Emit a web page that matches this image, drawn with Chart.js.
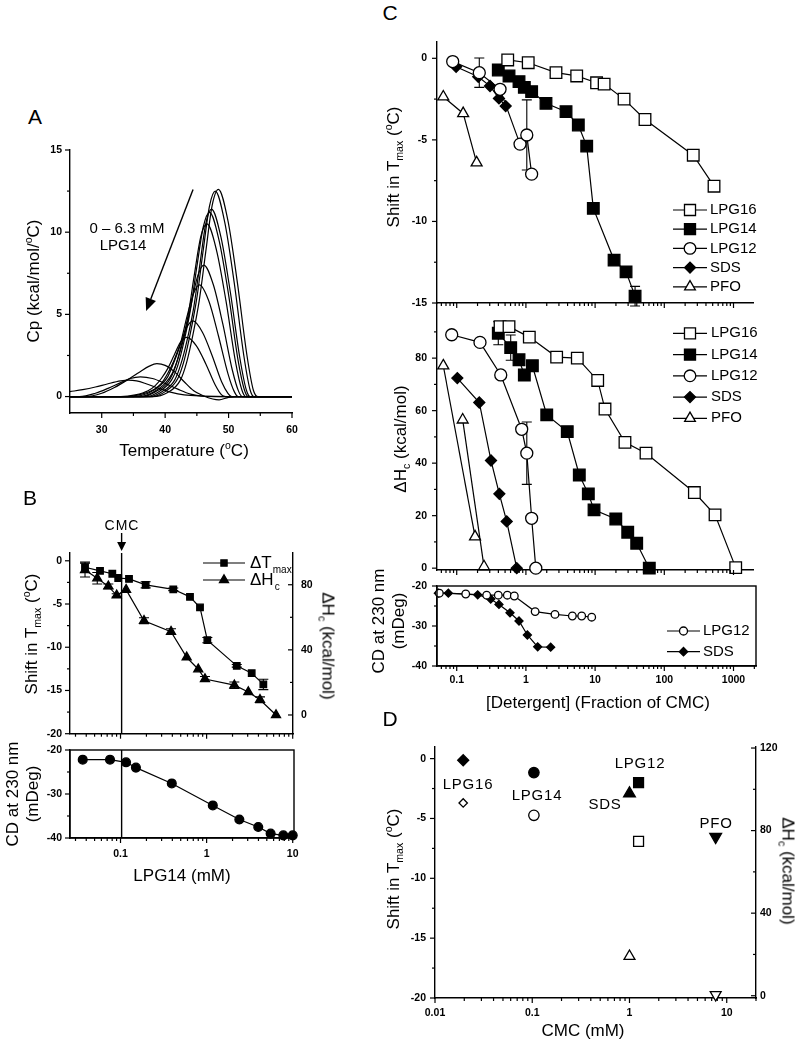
<!DOCTYPE html>
<html>
<head>
<meta charset="utf-8">
<title>LPG detergents — DSC / CD</title>
<script src="https://cdn.jsdelivr.net/npm/chart.js@4.4.1/dist/chart.umd.min.js"></script>
<style>
  html, body { margin: 0; padding: 0; background: #fff; }
  body { position: relative; width: 797px; height: 1043px; overflow: hidden; font-family: Arial, "Liberation Sans", sans-serif; color: #000; }
  canvas { position: absolute; }
  .t { position: absolute; white-space: nowrap; font-size: 17px; line-height: 1; transform: translate(-50%, -50%); }
  .up { transform: translate(-50%, -50%) rotate(-90deg); }
  .down { transform: translate(-50%, -50%) rotate(90deg); }
  .t sup, .t sub { font-size: 0.62em; line-height: 0; }
  .two { text-align: center; line-height: 1.15; }
  .panel { font-size: 21px; }
  .key { font-size: 15px; letter-spacing: 0.8px; }
</style>
</head>
<body>
<canvas id="chartA"></canvas>
<canvas id="chartB1"></canvas>
<canvas id="chartB2"></canvas>
<canvas id="chartC1"></canvas>
<canvas id="chartC2"></canvas>
<canvas id="chartC3"></canvas>
<canvas id="chartD"></canvas>

<!-- panel A -->
<div class="t panel" style="left:35px;top:116px">A</div>
<div class="t up" style="left:33px;top:281px">Cp (kcal/mol/<sup>o</sup>C)</div>
<div class="t" style="left:184px;top:450px">Temperature (<sup>o</sup>C)</div>
<div class="t" style="left:127px;top:227px;font-size:15px">0 – 6.3 mM</div>
<div class="t" style="left:123px;top:244px;font-size:15px">LPG14</div>

<!-- panel B -->
<div class="t panel" style="left:30px;top:497px">B</div>
<div class="t" style="left:122px;top:525px;font-size:14px;letter-spacing:1px">CMC</div>
<div class="t up" style="left:31px;top:634px">Shift in T<sub>max</sub> (<sup>o</sup>C)</div>
<div class="t down" style="left:328px;top:646px">ΔH<sub>c</sub> (kcal/mol)</div>
<div class="t up two" style="left:23px;top:794px">CD at 230 nm<br>(mDeg)</div>
<div class="t" style="left:182px;top:875px">LPG14 (mM)</div>

<!-- panel C -->
<div class="t panel" style="left:390px;top:12px">C</div>
<div class="t up" style="left:393px;top:167px">Shift in T<sub>max</sub> (<sup>o</sup>C)</div>
<div class="t up" style="left:400px;top:439px">ΔH<sub>c</sub> (kcal/mol)</div>
<div class="t up two" style="left:389px;top:621px">CD at 230 nm<br>(mDeg)</div>
<div class="t" style="left:598px;top:702px">[Detergent] (Fraction of CMC)</div>

<!-- panel D -->
<div class="t panel" style="left:390px;top:718px">D</div>
<div class="t up" style="left:393px;top:869px">Shift in T<sub>max</sub> (<sup>o</sup>C)</div>
<div class="t down" style="left:788px;top:871px">ΔH<sub>c</sub> (kcal/mol)</div>
<div class="t" style="left:583px;top:1030px">CMC (mM)</div>
<div class="t key" style="left:468px;top:783px">LPG16</div>
<div class="t key" style="left:537px;top:794px">LPG14</div>
<div class="t key" style="left:640px;top:762px">LPG12</div>
<div class="t key" style="left:605px;top:803px">SDS</div>
<div class="t key" style="left:716px;top:822px">PFO</div>

<script>
// ---------- Panel A: DSC scans, [T (°C), Cp (kcal/mol/°C)], 0 -> 6.3 mM LPG14 ----------
const scan01 = [[25,0],[38,0],[40.4,0.25],[42.4,1.0],[43.4,2.1],[44.4,3.8],[45.4,5.9],[46.4,8.8],[47.4,11.6],[48.4,12.6],[49.9,10.7],[51.4,6.9],[52.9,2.5],[53.9,0.4],[54.6,0],[60,0]];
const scan02 = [[25,0],[38,0],[40,0.3],[42,1.1],[43,2.2],[44,3.9],[45,6.0],[46,8.9],[47,11.6],[47.9,12.5],[49.4,10.6],[50.9,6.9],[52.4,2.5],[53.4,0.4],[54,0],[60,0]];
const scan03 = [[25,0],[37.5,0],[39.5,0.3],[41.5,1.0],[42.5,2.0],[43.5,3.5],[44.5,5.4],[45.5,8.1],[46.4,10.5],[47.3,11.4],[48.8,9.7],[50.3,6.3],[51.8,2.3],[52.8,0.4],[53.4,0],[60,0]];
const scan04 = [[25,0],[37,0],[39,0.3],[41,1.0],[42,1.9],[43,3.4],[44,5.3],[45,7.9],[46,10.3],[47,11.2],[48.5,9.5],[50,6.2],[51.5,2.2],[52.5,0.4],[53.1,0],[60,0]];
const scan05 = [[25,0],[36.5,0],[38.5,0.3],[40.5,0.9],[41.6,1.8],[42.6,3.2],[43.6,4.9],[44.6,7.4],[45.6,9.7],[46.6,10.5],[48.1,8.9],[49.6,5.8],[51.1,2.1],[52.1,0.4],[52.7,0],[60,0]];
const scan06 = [[25,0],[36,0],[38,0.25],[40,0.8],[41.1,1.4],[42.1,2.4],[43.1,3.8],[44.1,5.6],[45.1,7.3],[46.1,8.0],[47.6,6.8],[49.1,4.4],[50.6,1.6],[51.6,0.3],[52.2,0],[60,0]];
const scan07 = [[25,0],[35,0],[37.3,0.2],[39.3,0.7],[40.4,1.2],[41.4,2.1],[42.4,3.2],[43.4,4.8],[44.4,6.2],[45.4,6.8],[46.9,5.8],[48.4,3.7],[49.9,1.4],[50.9,0.3],[51.5,0],[60,0]];
const scan08 = [[25,0],[34,0],[36.3,0.15],[38.3,0.45],[39.4,0.8],[40.4,1.4],[41.4,2.2],[42.4,3.2],[43.4,4.2],[44.4,4.6],[45.9,3.9],[47.4,2.5],[48.9,0.9],[49.9,0.2],[50.5,0],[60,0]];
const scan09 = [[25,0],[33,0],[35.3,0.1],[37.3,0.35],[38.4,0.65],[39.4,1.1],[40.4,1.7],[41.4,2.5],[42.4,3.3],[43.4,3.6],[44.9,3.1],[46.4,2.0],[47.9,0.7],[48.9,0.1],[49.5,0],[60,0]];
const scan10 = [[25,0],[27.5,0],[30,0.2],[32,0.55],[34,1.0],[36,1.5],[37.5,1.85],[38.7,2.0],[40,1.9],[41.5,1.5],[43,0.9],[44.5,0.35],[46,0.05],[47.5,-0.15],[48.5,-0.2],[50,-0.05],[52,0],[60,0]];
const scan11 = [[25,0],[26.5,0],[29,0.2],[31,0.5],[33,0.85],[34.5,1.1],[36.1,1.2],[38,1.1],[40,0.8],[42,0.45],[44,0.15],[46,0.02],[48,0],[60,0]];
const scan12 = [[25,0.3],[27,0.42],[29,0.58],[31,0.78],[33,0.95],[34.2,1.0],[35.5,0.95],[37,0.78],[39,0.5],[41,0.25],[43,0.1],[46,0.03],[50,0],[60,0]];
const dscScans = [scan01, scan02, scan03, scan04, scan05, scan06, scan07, scan08, scan09, scan10, scan11, scan12];
const tempTicks = [30, 40, 50, 60];
const tempMinor = [35, 45, 55];
const cpTicks = [0, 5, 10, 15];
const cpMinor = [2.5, 7.5, 12.5];

// ---------- Panel B: LPG14 titration ----------
const bTmaxConc = [0.0387, 0.0578, 0.0803, 0.094, 0.1255, 0.196, 0.41, 0.641, 0.838, 1.02, 2.24, 3.34, 4.56];
const bTmaxShift = [-0.75, -1.16, -1.5, -1.99, -2.1, -2.78, -3.3, -4.17, -5.4, -9.18, -12.15, -13.0, -14.3];
const bTmaxErr = [0.6, 0, 0, 0, 0, 0.35, 0.15, 0, 0, 0.3, 0.15, 0, 0.6];
const bHcConc = [0.0387, 0.0537, 0.0722, 0.0903, 0.116, 0.1875, 0.386, 0.587, 0.80, 0.957, 2.10, 3.05, 4.17, 6.4];
const bHc = [89.0, 84.0, 79.0, 73.5, 77.0, 57.9, 51.2, 35.4, 28.1, 22.1, 18.3, 14.1, 9.3, 0];
const bHcErr = [4.2, 3.5, 1.5, 1.0, 0, 1.8, 1.8, 0, 0, 1.5, 2.0, 0, 1.8, 0];
const bCdConc = [0.0364, 0.0755, 0.116, 0.151, 0.394, 1.18, 2.40, 3.98, 5.54, 7.78, 10];
const bCd = [-22.2, -22.2, -22.8, -24.0, -27.6, -32.6, -35.8, -37.5, -39.0, -39.4, -39.4];
const cmcLPG14 = 0.103;
const bConcTicks = [0.1, 1, 10];
const bShiftTicks = [0, -5, -10, -15, -20];
const bShiftMinor = [-2.5, -7.5, -12.5, -17.5];
const bHcTicks = [0, 40, 80];
const bHcMinor = [20, 60];
const cdTicks = [-20, -30, -40];
const cdMinor = [-25, -35];

// ---------- Panel C: vs [detergent] / CMC ----------
const detergents = ['LPG16', 'LPG14', 'LPG12', 'SDS', 'PFO'];
const cShiftX16 = [0.546, 1.08, 2.72, 5.42, 10.5, 13.5, 26.2, 52.6, 262, 523];
const cShift16 = [-0.1, -0.27, -0.88, -1.08, -1.5, -1.58, -2.5, -3.75, -5.94, -7.84];
const cShiftX14 = [0.399, 0.57, 0.795, 0.949, 1.21, 1.95, 3.8, 5.72, 7.56, 9.42, 18.8, 28, 37.8];
const cShift14 = [-0.72, -1.08, -1.43, -1.78, -2.04, -2.76, -3.27, -4.09, -5.38, -9.2, -12.37, -13.09, -14.58];
const cShiftErr14 = [0, 0, 0, 0, 0, 0.3, 0, 0, 0, 0.15, 0.12, 0, 0.6];
const cShiftX12 = [0.0875, 0.212, 0.423, 0.822, 1.03, 1.21];
const cShift12 = [-0.2, -0.88, -1.9, -5.26, -4.7, -7.1];
const cShiftErr12 = [0, 0.9, 0, 0, 2.15, 0];
const cShiftXSds = [0.098, 0.205, 0.303, 0.408, 0.51];
const cShiftSds = [-0.52, -1.13, -1.7, -2.46, -2.93];
const cShiftXPfo = [0.064, 0.124, 0.194];
const cShiftPfo = [-2.36, -3.38, -6.4];

const cHcX16 = [0.423, 0.57, 1.12, 2.78, 5.53, 10.9, 13.9, 27, 54.4, 272, 541, 1076];
const cHc16 = [92.0, 92.0, 88.0, 80.4, 80.0, 71.5, 60.6, 47.9, 43.8, 28.8, 20.3, 0.2];
const cHcX14 = [0.399, 0.603, 0.795, 0.949, 1.24, 2.0, 3.96, 5.91, 7.98, 9.65, 19.9, 29.6, 39.9, 60.7];
const cHc14 = [89.5, 84.0, 79.4, 73.6, 77.1, 58.4, 52.0, 35.5, 28.3, 22.2, 18.7, 13.7, 9.5, 0];
const cHcErr14 = [4.4, 4.8, 0, 0, 0, 0, 0, 0, 0, 1.5, 0, 0, 2.0, 0];
const cHcX12 = [0.0847, 0.217, 0.433, 0.869, 1.03, 1.21, 1.39];
const cHc12 = [88.9, 86.0, 73.6, 52.9, 43.8, 19.0, 0];
const cHcErr12 = [0, 1.5, 0, 0, 11.9, 0, 0];
const cHcXSds = [0.102, 0.212, 0.313, 0.413, 0.528, 0.737];
const cHcSds = [72.4, 63.1, 41.0, 28.3, 17.8, 0];
const cHcXPfo = [0.064, 0.122, 0.184, 0.248];
const cHcPfo = [77.1, 56.5, 12.0, 0.6];
const cHcPfoLinks = [[0, 2], [1, 3]];   // how the PFO points are joined in the figure

const cCdX12 = [0.0561, 0.135, 0.271, 0.399, 0.539, 0.68, 1.36, 2.63, 4.69, 6.4, 8.93];
const cCd12 = [-21.8, -22.0, -22.3, -22.3, -22.3, -22.5, -26.4, -27.1, -27.5, -27.5, -27.8];
const cCdXSds = [0.0543, 0.0757, 0.201, 0.31, 0.408, 0.589, 0.795, 1.05, 1.48, 2.28];
const cCdSds = [-21.8, -21.8, -22.2, -23.25, -24.6, -26.7, -28.75, -32.25, -35.2, -35.3];

const cFracTicks = [0.1, 1, 10, 100, 1000];
const cShiftTicks = [0, -5, -10, -15];
const cShiftMinor = [-2.5, -7.5, -12.5];
const cHcTicks = [0, 20, 40, 60, 80];
const cHcMinor = [10, 30, 50, 70, 90];

// ---------- Panel D: vs CMC ----------
const dCmc = [0.0195, 0.104, 1.24, 1.0, 7.7];
const dShift = [-0.14, -1.17, -2.0, -2.92, -6.53];
const dHc = [93.4, 87.4, 74.8, 19.1, 0.5];
const dCmcTicks = [0.01, 0.1, 1, 10];
const dShiftTicks = [0, -5, -10, -15, -20];
const dShiftMinor = [-2.5, -7.5, -12.5, -17.5];
const dHcTicks = [0, 40, 80, 120];
const dHcMinor = [20, 60, 100];

// ---------- helpers ----------
const FONT = 'Arial, "Liberation Sans", sans-serif';
const TICK_FONT = { family: FONT, size: 10.5, weight: 'bold' };
const FILL = '#000', OPEN = '#fff';

function logMinors(min, max) {
  const out = [];
  for (let e = Math.floor(Math.log10(min)); e <= Math.ceil(Math.log10(max)); e++) {
    for (let m = 2; m <= 9; m++) {
      const v = +(m * Math.pow(10, e)).toPrecision(6);
      if (v >= min && v <= max) out.push(v);
    }
  }
  return out;
}

function axis(kind, position, min, max, majors, minors, size, o) {
  o = o || {};
  return {
    type: kind, position, min, max,
    grid: { display: false, drawTicks: true, tickLength: o.tick == null ? 6 : o.tick },
    border: { display: true, color: '#000', width: 1.4 },
    ticks: {
      display: o.labels !== false, color: '#000', font: TICK_FONT,
      padding: o.pad == null ? 2 : o.pad, autoSkip: false, maxRotation: 0, minRotation: 0,
      callback: v => (majors.includes(v) ? String(v) : '')
    },
    afterBuildTicks: s => {
      s.ticks = majors.concat(minors).sort((a, b) => a - b)
        .map(v => ({ value: v, major: majors.includes(v) }));
    },
    afterFit: s => { if (s.isHorizontal()) s.height = size; else s.width = size; }
  };
}

function pts(xs, ys) { return xs.map((x, i) => ({ x, y: ys[i] })); }

function ser(xs, ys, style, r, fill, more) {
  return Object.assign({
    data: pts(xs, ys), showLine: true, borderColor: '#000', borderWidth: 1.2,
    pointStyle: style, pointRadius: r, pointHoverRadius: r,
    pointBackgroundColor: fill, pointBorderColor: '#000', pointBorderWidth: 1.3, clip: false
  }, more || {});
}

// per-canvas extras read by the plugins below
const extras = {};

const tickMarks = {
  id: 'tickMarks',
  afterDraw(chart) {
    const ex = extras[chart.canvas.id] || {}, inward = ex.inward || [];
    const ctx = chart.ctx;
    ctx.save();
    ctx.strokeStyle = '#000'; ctx.lineWidth = 1.2;
    for (const id in chart.scales) {
      const s = chart.scales[id], dir = inward.includes(id) ? -1 : 1;
      for (const t of s.ticks) {
        const len = (t.major ? 5 : 3) * dir;
        const p = s.getPixelForValue(t.value);
        ctx.beginPath();
        if (s.position === 'bottom') { ctx.moveTo(p, s.top); ctx.lineTo(p, s.top + len); }
        else if (s.position === 'left') { ctx.moveTo(s.right, p); ctx.lineTo(s.right - len, p); }
        else { ctx.moveTo(s.left, p); ctx.lineTo(s.left + len, p); }
        ctx.stroke();
      }
    }
    if (ex.box) {
      const a = chart.chartArea;
      ctx.lineWidth = 1.4;
      ctx.strokeRect(a.left, a.top, a.right - a.left, a.bottom - a.top);
    }
    ctx.restore();
  }
};

const errorBars = {
  id: 'errorBars',
  beforeDatasetsDraw(chart) {
    const ctx = chart.ctx;
    ctx.save(); ctx.strokeStyle = '#000'; ctx.lineWidth = 1.1;
    chart.data.datasets.forEach(ds => {
      if (!ds.errors) return;
      const xs = chart.scales[ds.xAxisID || 'x'], ys = chart.scales[ds.yAxisID || 'y'];
      ds.data.forEach((p, i) => {
        const e = ds.errors[i];
        if (!e) return;
        const x = xs.getPixelForValue(p.x), y1 = ys.getPixelForValue(p.y + e), y2 = ys.getPixelForValue(p.y - e);
        ctx.beginPath();
        ctx.moveTo(x, y1); ctx.lineTo(x, y2);
        ctx.moveTo(x - 5, y1); ctx.lineTo(x + 5, y1);
        ctx.moveTo(x - 5, y2); ctx.lineTo(x + 5, y2);
        ctx.stroke();
      });
    });
    ctx.restore();
  }
};

function arrowHead(ctx, x1, y1, x2, y2, len, half) {
  const dx = x2 - x1, dy = y2 - y1, d = Math.hypot(dx, dy), ux = dx / d, uy = dy / d;
  const bx = x2 - ux * len, by = y2 - uy * len;
  ctx.beginPath(); ctx.moveTo(x1, y1); ctx.lineTo(bx, by); ctx.stroke();
  ctx.beginPath();
  ctx.moveTo(x2, y2);
  ctx.lineTo(bx - uy * half, by + ux * half);
  ctx.lineTo(bx + uy * half, by - ux * half);
  ctx.closePath(); ctx.fill();
}

const marks = {
  id: 'marks',
  afterDatasetsDraw(chart) {
    const ex = extras[chart.canvas.id];
    if (!ex) return;
    const ctx = chart.ctx, xs = chart.scales.x, ys = chart.scales.y, a = chart.chartArea;
    ctx.save(); ctx.strokeStyle = '#000'; ctx.fillStyle = '#000'; ctx.lineWidth = 1.4;
    if (ex.vline != null) {
      const x = xs.getPixelForValue(ex.vline);
      ctx.beginPath(); ctx.moveTo(x, a.top); ctx.lineTo(x, a.bottom); ctx.stroke();
    }
    if (ex.topArrow != null) {
      const x = xs.getPixelForValue(ex.topArrow);
      arrowHead(ctx, x, a.top - 20, x, a.top - 2, 9, 4.5);
    }
    (ex.arrows || []).forEach(ar => {
      arrowHead(ctx, xs.getPixelForValue(ar[0]), ys.getPixelForValue(ar[1]),
        xs.getPixelForValue(ar[2]), ys.getPixelForValue(ar[3]), 13, 5.5);
    });
    ctx.restore();
  }
};

const keyLegend = {
  id: 'keyLegend',
  afterDraw(chart) {
    const ex = extras[chart.canvas.id];
    if (!ex || !ex.key) return;
    const k = ex.key, ctx = chart.ctx, ox = chart.canvas.offsetLeft, oy = chart.canvas.offsetTop;
    ctx.save();
    k.items.forEach((it, i) => {
      const y = k.y + i * k.dy - oy, x0 = k.x - ox, x1 = x0 + k.len;
      ctx.strokeStyle = '#000'; ctx.lineWidth = 1.2;
      ctx.beginPath(); ctx.moveTo(x0, y); ctx.lineTo(x1, y); ctx.stroke();
      ctx.fillStyle = it.fill; ctx.lineWidth = 1.3;
      Chart.helpers.drawPoint(ctx, { pointStyle: it.style, radius: it.r, rotation: 0, borderWidth: 1.3 }, (x0 + x1) / 2, y);
      ctx.fillStyle = '#000'; ctx.font = k.font; ctx.textBaseline = 'middle'; ctx.textAlign = 'left';
      ctx.fillText(it.label, x1 + k.gap, y);
      if (it.sub) {
        const w = ctx.measureText(it.label).width;
        ctx.font = k.subFont;
        ctx.fillText(it.sub, x1 + k.gap + w + 1, y + 7);
      }
    });
    ctx.restore();
  }
};

Chart.register(tickMarks, errorBars, marks, keyLegend);
Chart.defaults.font.family = FONT;

function makeChart(id, plot, pad, datasets, scales) {
  const cv = document.getElementById(id);
  const W = plot.w + pad.l + pad.r, H = plot.h + pad.t + pad.b;
  cv.width = W; cv.height = H;
  cv.style.width = W + 'px'; cv.style.height = H + 'px';
  cv.style.left = (plot.x - pad.l) + 'px'; cv.style.top = (plot.y - pad.t) + 'px';
  return new Chart(cv, {
    type: 'scatter',
    data: { datasets },
    options: {
      responsive: false, animation: false, events: [], devicePixelRatio: 1,
      layout: { padding: { top: pad.t, left: 0, bottom: 0, right: scales.y1 ? 0 : pad.r } },
      plugins: { legend: { display: false }, tooltip: { enabled: false } },
      scales
    }
  });
}

// ---------- Panel A ----------
extras.chartA = { arrows: [[44.4, 12.6, 37.0, 5.2]] };
makeChart('chartA', { x: 70, y: 150, w: 222, h: 263 }, { l: 40, t: 12, r: 12, b: 30 },
  dscScans.map(s => ({
    data: s.map(p => ({ x: p[0], y: p[1] })), showLine: true, pointRadius: 0,
    borderColor: '#000', borderWidth: 1.2, cubicInterpolationMode: 'monotone', clip: false
  })),
  {
    x: axis('linear', 'bottom', 25, 60, tempTicks, tempMinor, 30, { pad: 5 }),
    y: axis('linear', 'left', -1, 15, cpTicks, cpMinor, 40)
  });

// ---------- Panel B ----------
extras.chartB1 = {
  vline: cmcLPG14, topArrow: cmcLPG14, inward: ['y1'],
  key: {
    x: 203, y: 563, dy: 17, len: 42, gap: 5, font: '17px ' + FONT, subFont: '10px ' + FONT,
    items: [
      { label: 'ΔT', sub: 'max', style: 'rect', r: 4.4, fill: FILL },
      { label: 'ΔH', sub: 'c', style: 'triangle', r: 5.2, fill: FILL }
    ]
  }
};
makeChart('chartB1', { x: 70, y: 553, w: 223, h: 183 }, { l: 40, t: 30, r: 40, b: 12 },
  [
    ser(bTmaxConc, bTmaxShift, 'rect', 4.6, FILL, { errors: bTmaxErr }),
    ser(bHcConc, bHc, 'triangle', 5.2, FILL, { errors: bHcErr, yAxisID: 'y1' })
  ],
  {
    x: axis('logarithmic', 'bottom', 0.0259, 10.08, bConcTicks, logMinors(0.0259, 10.08), 12, { labels: false }),
    y: axis('linear', 'left', -20, 0.9, bShiftTicks, bShiftMinor, 40),
    y1: axis('linear', 'right', -11.5, 99.5, bHcTicks, bHcMinor, 40, { tick: 0, pad: 8 })
  });

extras.chartB2 = { vline: cmcLPG14, box: true };
makeChart('chartB2', { x: 70, y: 750, w: 224, h: 88 }, { l: 40, t: 12, r: 12, b: 24 },
  [ser(bCdConc, bCd, 'circle', 4.4, FILL)],
  {
    x: axis('logarithmic', 'bottom', 0.0259, 10.35, bConcTicks, logMinors(0.0259, 10.35), 24, { pad: 4 }),
    y: axis('linear', 'left', -40, -20, cdTicks, cdMinor, 40)
  });

// ---------- Panel C ----------
const cKeyItems = [
  { label: detergents[0], style: 'rect', r: 7.8, fill: OPEN },
  { label: detergents[1], style: 'rect', r: 7.8, fill: FILL },
  { label: detergents[2], style: 'circle', r: 5.8, fill: OPEN },
  { label: detergents[3], style: 'rectRot', r: 5.5, fill: FILL },
  { label: detergents[4], style: 'triangle', r: 6.2, fill: OPEN }
];
extras.chartC1 = { key: { x: 673, y: 210, dy: 19.2, len: 34, gap: 3, font: '15px ' + FONT, items: cKeyItems } };
makeChart('chartC1', { x: 437, y: 42, w: 316, h: 261 }, { l: 42, t: 12, r: 12, b: 12 },
  [
    ser(cShiftX16, cShift16, 'rect', 8.2, OPEN),
    ser(cShiftX14, cShift14, 'rect', 8.2, FILL, { errors: cShiftErr14 }),
    ser(cShiftX12, cShift12, 'circle', 6, OPEN, { errors: cShiftErr12 }),
    ser(cShiftXSds, cShiftSds, 'rectRot', 5.5, FILL),
    ser(cShiftXPfo, cShiftPfo, 'triangle', 6.3, OPEN)
  ],
  {
    x: axis('logarithmic', 'bottom', 0.0519, 1913, cFracTicks, logMinors(0.0519, 1913), 12, { labels: false }),
    y: axis('linear', 'left', -15, 1, cShiftTicks, cShiftMinor, 42, { pad: 4 })
  });

extras.chartC2 = { key: { x: 673, y: 333.3, dy: 21.25, len: 34, gap: 4, font: '15px ' + FONT, items: cKeyItems } };
makeChart('chartC2', { x: 437, y: 303, w: 316, h: 267 }, { l: 42, t: 12, r: 12, b: 12 },
  [
    ser(cHcX16, cHc16, 'rect', 8.2, OPEN),
    ser(cHcX14, cHc14, 'rect', 8.2, FILL, { errors: cHcErr14 }),
    ser(cHcX12, cHc12, 'circle', 6, OPEN, { errors: cHcErr12 }),
    ser(cHcXSds, cHcSds, 'rectRot', 5.5, FILL),
    ser(cHcXPfo, cHcPfo, 'triangle', 6.3, OPEN, { showLine: false })
  ].concat(cHcPfoLinks.map(l => ({
    data: l.map(i => ({ x: cHcXPfo[i], y: cHcPfo[i] })), showLine: true, pointRadius: 0,
    borderColor: '#000', borderWidth: 1.2, clip: false
  }))),
  {
    x: axis('logarithmic', 'bottom', 0.0519, 1913, cFracTicks, logMinors(0.0519, 1913), 12, { labels: false }),
    y: axis('linear', 'left', -0.7, 101, cHcTicks, cHcMinor, 42, { pad: 4 })
  });

extras.chartC3 = {
  box: true,
  key: {
    x: 667, y: 631, dy: 20.7, len: 33, gap: 3, font: '15px ' + FONT,
    items: [
      { label: detergents[2], style: 'circle', r: 4, fill: OPEN },
      { label: detergents[3], style: 'rectRot', r: 4.2, fill: FILL }
    ]
  }
};
makeChart('chartC3', { x: 437, y: 586, w: 319, h: 80 }, { l: 42, t: 12, r: 12, b: 22 },
  [
    ser(cCdX12, cCd12, 'circle', 3.8, OPEN),
    ser(cCdXSds, cCdSds, 'rectRot', 4, FILL)
  ],
  {
    x: axis('logarithmic', 'bottom', 0.0519, 2114, cFracTicks, logMinors(0.0519, 2114), 22, { pad: 2 }),
    y: axis('linear', 'left', -40, -20, cdTicks, cdMinor, 42, { pad: 4 })
  });

// ---------- Panel D ----------
const dFilled = [['rectRot', 5.5, 0], ['circle', 5.2, 0], ['rect', 7, 0], ['triangle', 6.8, 0], ['triangle', 6.8, 180]];
const dOpen = [['rectRot', 4.2, 0], ['circle', 5.2, 0], ['rect', 7, 0], ['triangle', 6.3, 0], ['triangle', 6.3, 180]];
extras.chartD = { inward: ['y1'] };
makeChart('chartD', { x: 435, y: 747, w: 321, h: 251 }, { l: 42, t: 12, r: 36, b: 26 },
  dCmc.map((c, i) => ({
    data: [{ x: c, y: dShift[i] }], showLine: false,
    pointStyle: dFilled[i][0], pointRadius: dFilled[i][1], pointRotation: dFilled[i][2],
    pointBackgroundColor: FILL, pointBorderColor: '#000', pointBorderWidth: 1.3, clip: false
  })).concat(dCmc.map((c, i) => ({
    data: [{ x: c, y: dHc[i] }], showLine: false, yAxisID: 'y1',
    pointStyle: dOpen[i][0], pointRadius: dOpen[i][1], pointRotation: dOpen[i][2],
    pointBackgroundColor: OPEN, pointBorderColor: '#000', pointBorderWidth: 1.3, clip: false
  }))),
  {
    x: axis('logarithmic', 'bottom', 0.01, 20, dCmcTicks, logMinors(0.01, 20), 26, { pad: 3 }),
    y: axis('linear', 'left', -20, 0.97, dShiftTicks, dShiftMinor, 42, { pad: 3 }),
    y1: axis('linear', 'right', -1.1, 120.5, dHcTicks, dHcMinor, 36, { tick: 0, pad: 4 })
  });
</script>
</body>
</html>
